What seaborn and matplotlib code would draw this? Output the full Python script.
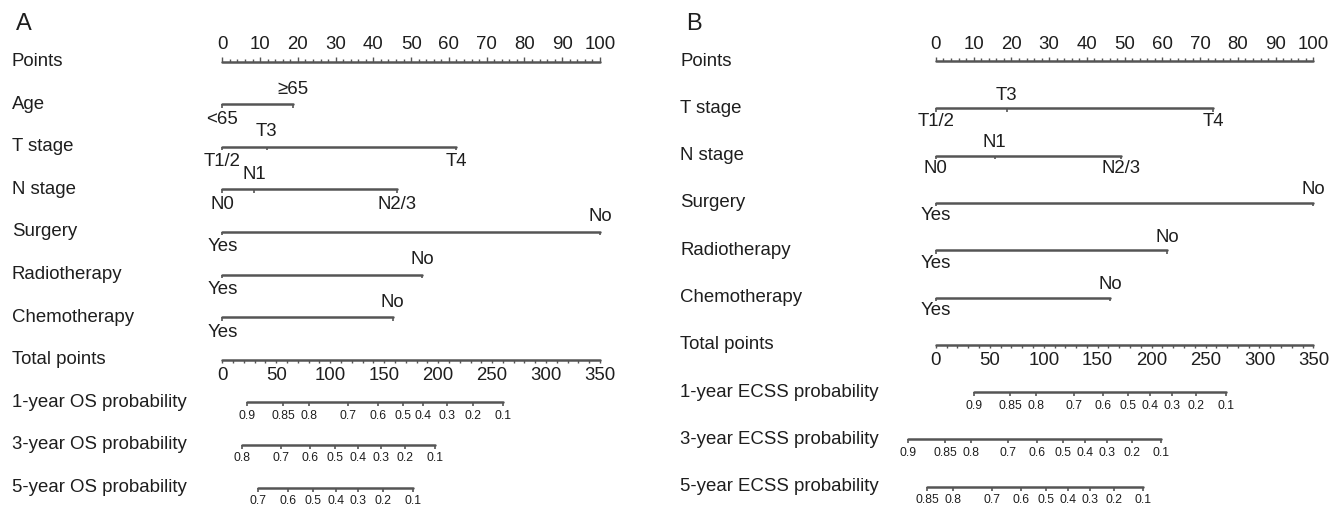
import matplotlib
matplotlib.use("Agg")
import matplotlib.pyplot as plt
import seaborn as sns

sns.set_theme(style="white")
plt.rcParams['font.family'] = ['Liberation Sans', 'DejaVu Sans']

# ---------------- Panel A (OS) ----------------
a_vars = ["Age", "T stage", "N stage", "Surgery", "Radiotherapy", "Chemotherapy"]
a_levels = [["<65", "≥65"], ["T1/2", "T3", "T4"], ["N0", "N1", "N2/3"],
            ["Yes", "No"], ["Yes", "No"], ["Yes", "No"]]
a_points = [[0, 18.8], [0, 11.8, 62.0], [0, 8.4, 46.3],
            [0, 100], [0, 52.9], [0, 45.1]]
a_prob_names = ["1-year OS probability", "3-year OS probability", "5-year OS probability"]
os1_prob = [0.9, 0.85, 0.8, 0.7, 0.6, 0.5, 0.4, 0.3, 0.2, 0.1]
os1_tp = [22.6, 56.5, 80.6, 116.8, 144.0, 167.2, 186.3, 207.9, 232.0, 260.4]
os3_prob = [0.8, 0.7, 0.6, 0.5, 0.4, 0.3, 0.2, 0.1]
os3_tp = [18.0, 54.1, 81.3, 104.4, 125.5, 146.8, 169.3, 197.1]
os5_prob = [0.7, 0.6, 0.5, 0.4, 0.3, 0.2, 0.1]
os5_tp = [33.4, 61.2, 84.3, 105.4, 126.0, 149.2, 177.0]

# ---------------- Panel B (ECSS) ----------------
b_vars = ["T stage", "N stage", "Surgery", "Radiotherapy", "Chemotherapy"]
b_levels = [["T1/2", "T3", "T4"], ["N0", "N1", "N2/3"],
            ["Yes", "No"], ["Yes", "No"], ["Yes", "No"]]
b_points = [[0, 18.8, 73.4], [0, 15.6, 49.0], [0, 100], [0, 61.3], [0, 46.2]]
b_prob_names = ["1-year ECSS probability", "3-year ECSS probability", "5-year ECSS probability"]
ecss1_prob = [0.9, 0.85, 0.8, 0.7, 0.6, 0.5, 0.4, 0.3, 0.2, 0.1]
ecss1_tp = [35.3, 68.7, 92.5, 128.3, 155.2, 177.8, 198.5, 218.6, 241.2, 269.0]
ecss3_prob = [0.9, 0.85, 0.8, 0.7, 0.6, 0.5, 0.4, 0.3, 0.2, 0.1]
ecss3_tp = [-25.6, 8.4, 32.3, 67.1, 94.0, 117.6, 138.2, 158.4, 181.5, 208.7]
ecss5_prob = [0.85, 0.8, 0.7, 0.6, 0.5, 0.4, 0.3, 0.2, 0.1]
ecss5_tp = [-8.0, 16.1, 51.7, 78.6, 101.8, 122.8, 142.9, 165.4, 192.3]

points_ticks = list(range(0, 101, 10))
total_ticks = list(range(0, 351, 50))
TOTAL_MAX = 350

W, H = 1340, 509
fig = plt.figure(figsize=(W / 100, H / 100), dpi=100)
fig.patch.set_facecolor("white")

LINE_C = "#555555"
TEXT_C = "#1e1e1e"
FS = 13.4
FS_SMALL = 8.8
PX = 0.72  # points per pixel at 100 dpi


def fmt(p):
    return f"{p:g}"


def draw_panel(left_px, width_px, zero_px, ppp, row0_px, spacing_px,
               letter, letter_x, label_x_px, var_names, levels, pts,
               prob_names, prob_sets, cat_off):
    ax = fig.add_axes([left_px / W, 0, width_px / W, 1])
    ax.set_xlim(-(zero_px - left_px) / ppp, (left_px + width_px - zero_px) / ppp)
    ax.set_ylim((H - row0_px) / spacing_px, -row0_px / spacing_px)
    ax.axis("off")
    lab_x = (label_x_px - zero_px) / ppp
    tk = lambda px: px / spacing_px  # pixel length to row units

    def seg(x0, x1, r):
        sns.lineplot(x=[x0, x1], y=[r, r], ax=ax, color=LINE_C, lw=1.8,
                     estimator=None, sort=False, legend=False)

    def label(text, r):
        ax.text(lab_x, r, text, ha="left", va="center", fontsize=FS, color=TEXT_C)

    def tlabel(text, x, r, dy_px, fs=FS):
        ax.annotate(text, xy=(x, r), xytext=(0, dy_px * PX), textcoords="offset points",
                    ha="center", va="center", fontsize=fs, color=TEXT_C)

    # panel letter
    fig.text(letter_x / W, 1 - 24 / H, letter, fontsize=17, color=TEXT_C,
             ha="left", va="center")

    row = 0
    # Points axis
    label("Points", row)
    seg(0, 100, row)
    for v in range(0, 101, 2):
        ln = 4.5 if v % 10 == 0 else 3
        ax.vlines(v, row - tk(ln), row, color=LINE_C, lw=1.0)
    for v in points_ticks:
        tlabel(str(v), v, row, 17)

    # categorical predictors
    for name, levs, p in zip(var_names, levels, pts):
        row += 1
        label(name, row)
        seg(min(p), max(p), row)
        for i, (lv, x) in enumerate(zip(levs, p)):
            ax.vlines(x, row, row + tk(3.5), color=LINE_C, lw=1.2)
            dy = -cat_off if i % 2 == 0 else cat_off
            tlabel(lv, x, row, dy)

    # total points
    row += 1
    label("Total points", row)
    seg(0, 100, row)
    for v in range(0, TOTAL_MAX + 1, 10):
        ax.vlines(v * 100 / TOTAL_MAX, row, row + tk(3), color=LINE_C, lw=1.0)
    for v in total_ticks:
        tlabel(str(v), v * 100 / TOTAL_MAX, row, -16)

    # probabilities
    for name, (probs, tps) in zip(prob_names, prob_sets):
        row += 1
        label(name, row)
        xs = [t * 100 / TOTAL_MAX for t in tps]
        seg(min(xs), max(xs), row)
        for pr, x in zip(probs, xs):
            ax.vlines(x, row, row + tk(4), color=LINE_C, lw=1.2)
            tlabel(fmt(pr), x, row, -13.5, fs=FS_SMALL)
    return ax


draw_panel(0, 660, 222.3, 3.777, 61.5, 42.6, "A", 16, 11.7,
           a_vars, a_levels, a_points, a_prob_names,
           [(os1_prob, os1_tp), (os3_prob, os3_tp), (os5_prob, os5_tp)], 15)

draw_panel(670, 670, 935.9, 3.775, 61, 47.3, "B", 686, 680,
           b_vars, b_levels, b_points, b_prob_names,
           [(ecss1_prob, ecss1_tp), (ecss3_prob, ecss3_tp), (ecss5_prob, ecss5_tp)], 13)

fig.savefig("out.png", dpi=100, facecolor="white")
